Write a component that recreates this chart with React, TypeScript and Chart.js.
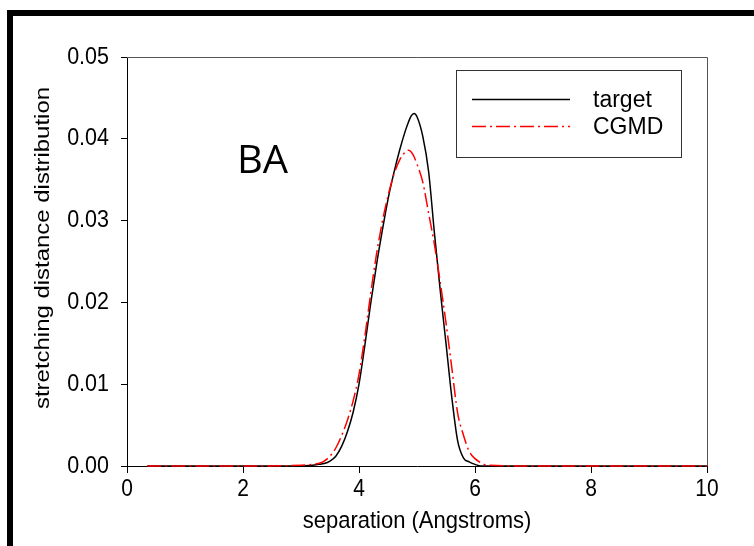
import React, { useEffect, useRef } from "react";
import { Chart, registerables } from "chart.js";

Chart.register(...registerables);

// separation (Angstroms)
const separation = [
  0.35, 1, 2, 3, 3.2, 3.3, 3.4, 3.5, 3.6, 3.7, 3.8, 3.9, 4.0, 4.1, 4.2, 4.3, 4.4,
  4.5, 4.6, 4.7, 4.8, 4.85, 4.9, 4.95, 5.0, 5.1, 5.2, 5.3, 5.4, 5.5, 5.6, 5.7,
  5.8, 5.9, 6.0, 6.1, 6.2, 7, 8, 9, 10,
];

// target distribution (black solid)
const targetValues = [
  0, 0, 0, 0, 0.0001, 0.0002, 0.0003, 0.0006, 0.0012, 0.0024, 0.0042, 0.0066,
  0.0100, 0.0147, 0.0198, 0.0245, 0.0287, 0.0326, 0.0358, 0.0386, 0.0410,
  0.0420, 0.0428, 0.0431, 0.0427, 0.0403, 0.0360, 0.0285, 0.0215, 0.0150,
  0.0084, 0.0031, 0.0010, 0.0005, 0.0002, 0, 0, 0, 0, 0, 0,
];

// CGMD distribution (red dash-dot)
const cgmdValues = [
  0, 0, 0, 0.0001, 0.0002, 0.0003, 0.0006, 0.0012, 0.0022, 0.0037, 0.0056,
  0.0080, 0.0112, 0.0158, 0.0210, 0.0258, 0.0298, 0.0330, 0.0356, 0.0374,
  0.0384, 0.0386, 0.0384, 0.0378, 0.0369, 0.0347, 0.0309, 0.0271, 0.0225,
  0.0175, 0.0120, 0.0065, 0.0038, 0.0018, 0.0009, 0.0004, 0.0001, 0, 0, 0, 0,
];

const xTickStep = 2;
const yTickStep = 0.01;
const seriesLabels = ["target", "CGMD"];
const panelLabel = "BA";
const xTitle = "separation (Angstroms)";
const yTitle = "stretching distance distribution";

const FONT = "'Liberation Sans', Arial, sans-serif";

function drawText(
  ctx: CanvasRenderingContext2D,
  text: string,
  x: number,
  y: number,
  font: string,
  align: CanvasTextAlign,
  baseline: CanvasTextBaseline,
  sx: number,
  sy: number,
  rotation = 0
) {
  ctx.save();
  ctx.translate(x, y);
  ctx.rotate(rotation);
  ctx.scale(sx, sy);
  ctx.font = font;
  ctx.textAlign = align;
  ctx.textBaseline = baseline;
  ctx.fillStyle = "#000000";
  ctx.fillText(text, 0, 0);
  ctx.restore();
}

const decorPlugin = {
  id: "decor",
  beforeDraw(chart: any) {
    const { ctx, width, height } = chart;
    ctx.save();
    ctx.fillStyle = "#ffffff";
    ctx.fillRect(0, 0, width, height);
    ctx.fillStyle = "#000000";
    ctx.fillRect(7, 10, width - 7, 6);
    ctx.fillRect(7, 10, 6, height - 10);
    ctx.restore();
  },
  afterDraw(chart: any) {
    const { ctx, chartArea, scales } = chart;
    const { left, right, top, bottom } = chartArea;
    ctx.save();
    // top and right frame
    ctx.strokeStyle = "#555555";
    ctx.lineWidth = 1;
    ctx.beginPath();
    ctx.moveTo(left, top + 0.5);
    ctx.lineTo(right + 0.5, top + 0.5);
    ctx.lineTo(right + 0.5, bottom);
    ctx.stroke();

    // tick labels from the library's scales
    const xs = scales.x;
    const ys = scales.y;
    xs.ticks.forEach((t: any) => {
      const px = xs.getPixelForValue(t.value);
      drawText(ctx, String(t.value), px, 490, `21px ${FONT}`, "center", "middle", 1, 1.12);
    });
    ys.ticks.forEach((t: any) => {
      const py = ys.getPixelForValue(t.value);
      drawText(ctx, Number(t.value).toFixed(2), 109, py, `21.5px ${FONT}`, "right", "middle", 1, 1.12);
    });

    // axis titles
    drawText(ctx, xTitle, (left + right) / 2, 521, `22px ${FONT}`, "center", "middle", 1, 1.12);
    drawText(ctx, yTitle, 43, 248, `21px ${FONT}`, "center", "middle", 1.14, 1, -Math.PI / 2);

    // legend box
    const bx = 456.5, by = 70.5, bw = 225, bh = 87;
    ctx.strokeStyle = "#333333";
    ctx.lineWidth = 1;
    ctx.strokeRect(bx, by, bw, bh);

    ctx.lineWidth = 1.5;
    ctx.strokeStyle = "#000000";
    ctx.setLineDash([]);
    ctx.beginPath();
    ctx.moveTo(472, 99.5);
    ctx.lineTo(570, 99.5);
    ctx.stroke();

    ctx.strokeStyle = "#ff0000";
    ctx.setLineDash([14, 4, 2, 4]);
    ctx.beginPath();
    ctx.moveTo(472, 126.5);
    ctx.lineTo(570, 126.5);
    ctx.stroke();
    ctx.setLineDash([]);

    drawText(ctx, seriesLabels[0], 593, 100, `23px ${FONT}`, "left", "middle", 1, 1.08);
    drawText(ctx, seriesLabels[1], 593, 127, `23px ${FONT}`, "left", "middle", 1, 1.08);

    // panel label
    drawText(ctx, panelLabel, 237, 173, `40px 'Open Sans', Lato, sans-serif`, "left", "alphabetic", 1, 0.95);
    ctx.restore();
  },
};

export default function App() {
  const ref = useRef<HTMLCanvasElement | null>(null);

  useEffect(() => {
    if (!ref.current) return;
    const toPoints = (ys: number[]) => separation.map((x, i) => ({ x, y: ys[i] }));
    const chart = new Chart(ref.current, {
      type: "line",
      data: {
        datasets: [
          {
            label: seriesLabels[0],
            data: toPoints(targetValues),
            borderColor: "#000000",
            borderWidth: 1.5,
            pointRadius: 0,
            cubicInterpolationMode: "monotone",
            fill: false,
            clip: 4,
            order: 2,
          },
          {
            label: seriesLabels[1],
            data: toPoints(cgmdValues),
            borderColor: "#ff0000",
            borderWidth: 1.5,
            borderDash: [14, 4, 2, 4],
            pointRadius: 0,
            cubicInterpolationMode: "monotone",
            fill: false,
            clip: 4,
            order: 1,
          },
        ],
      },
      options: {
        animation: false,
        responsive: false,
        events: [],
        layout: { padding: { left: 0, top: 57, right: 47, bottom: 0 } },
        plugins: {
          legend: { display: false },
          tooltip: { enabled: false },
          title: { display: false },
        },
        scales: {
          x: {
            type: "linear",
            min: 0,
            max: 10,
            ticks: { stepSize: xTickStep, display: false },
            grid: {
              display: true,
              drawOnChartArea: false,
              drawTicks: true,
              tickLength: 7,
              color: "#000000",
              lineWidth: 1,
            },
            border: { display: true, color: "#000000", width: 1 },
            title: { display: false },
            afterFit: (s: any) => {
              s.height = 80;
            },
          },
          y: {
            type: "linear",
            min: 0,
            max: 0.05,
            ticks: { stepSize: yTickStep, display: false },
            grid: {
              display: true,
              drawOnChartArea: false,
              drawTicks: true,
              tickLength: 6,
              color: "#000000",
              lineWidth: 1,
            },
            border: { display: true, color: "#000000", width: 1 },
            title: { display: false },
            afterFit: (s: any) => {
              s.width = 127;
            },
          },
        },
      },
      plugins: [decorPlugin],
    } as any);
    return () => chart.destroy();
  }, []);

  return (
    <div style={{ position: "absolute", left: 0, top: 0, width: 754, height: 546 }}>
      <canvas ref={ref} width={754} height={546} style={{ display: "block" }} />
    </div>
  );
}
